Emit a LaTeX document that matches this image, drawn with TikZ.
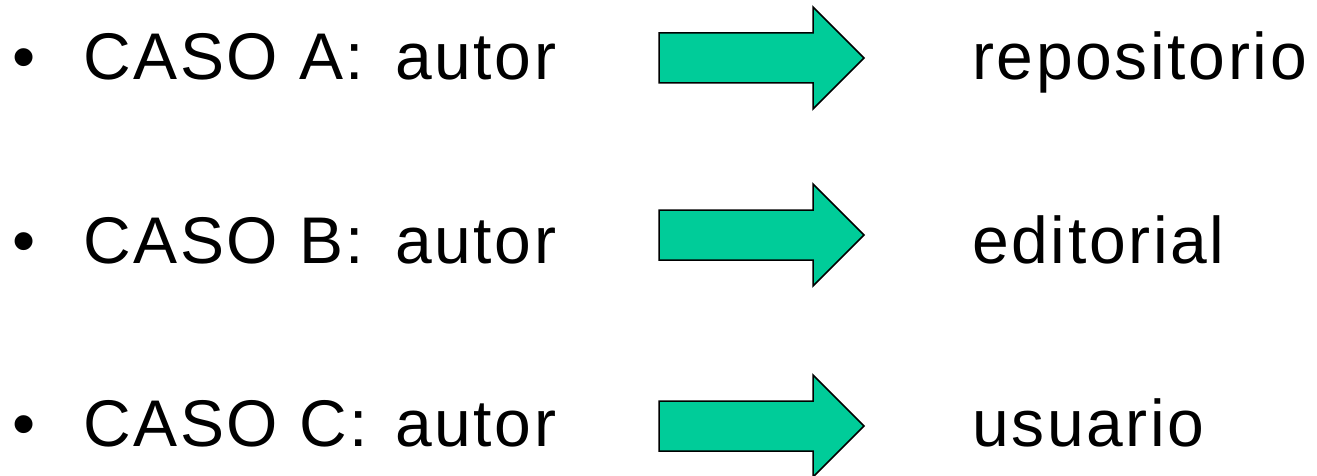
\documentclass[tikz,border=0pt]{standalone}
\usepackage{fontspec}
\setmainfont{Liberation Sans}[LetterSpace=4]
\definecolor{arrowgreen}{RGB}{0,204,153}
\begin{document}
\begin{tikzpicture}[x=1pt,y=-1pt,
    every node/.style={font=\fontsize{66}{70}\selectfont,inner sep=0pt,anchor=base west},
    dot/.style={anchor=base},
    bigarrow/.style={draw=black,line width=1.5pt,fill=arrowgreen,line join=miter}]
\useasboundingbox (0,0) rectangle (1317,476);
% caso A
\node[dot] (bulA) at (24,80) {•};
\node (casoA) at (83,80) {CASO A:};
\node (autorA) at (395,80) {autor};
\node (repo) at (972,80) {repositorio};
\draw[bigarrow,shift={(0,58)}] (659,-25) -- (813,-25) -- (813,-51) -- (864,0) -- (813,51) -- (813,25) -- (659,25) -- cycle;
% caso B
\node[dot] (bulB) at (24,263) {•};
\node (casoB) at (83,263) {CASO B:};
\node (autorB) at (395,263) {autor};
\node (edit) at (972,263) {editorial};
\draw[bigarrow,shift={(0,235)}] (659,-25) -- (813,-25) -- (813,-51) -- (864,0) -- (813,51) -- (813,25) -- (659,25) -- cycle;
% caso C
\node[dot] (bulC) at (24,446) {•};
\node (casoC) at (83,446) {CASO C:};
\node (autorC) at (395,446) {autor};
\node (usu) at (972,446) {usuario};
\draw[bigarrow,shift={(0,426)}] (659,-25) -- (813,-25) -- (813,-51) -- (864,0) -- (813,51) -- (813,25) -- (659,25) -- cycle;
\end{tikzpicture}
\end{document}
